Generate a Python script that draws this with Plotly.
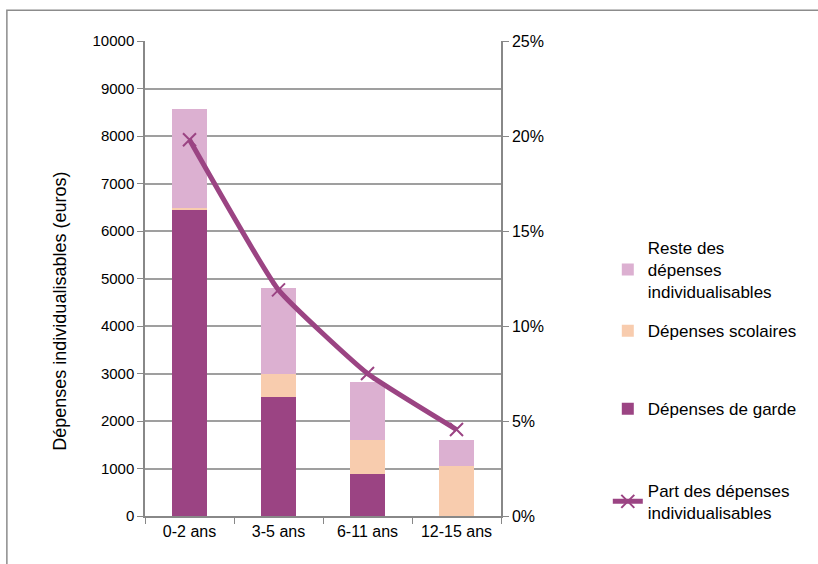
import plotly.graph_objects as go

categories = ["0-2 ans", "3-5 ans", "6-11 ans", "12-15 ans"]
garde = [6450, 2500, 880, 0]
scolaires = [30, 500, 730, 1060]
reste = [2080, 1800, 1220, 540]
part = [0.198, 0.119, 0.075, 0.0455]
y_title = "Dépenses individualisables (euros)"

c_garde = "#9B4483"
c_scol = "#F8CCAE"
c_reste = "#DCB0D1"

FONT = "Liberation Sans, Arial"

fig = go.Figure()
fig.add_bar(x=categories, y=garde, name="Dépenses de garde", marker=dict(color=c_garde, line=dict(width=0)), legend="legend3")
fig.add_bar(x=categories, y=scolaires, name="Dépenses scolaires", marker=dict(color=c_scol, line=dict(width=0)), legend="legend2")
fig.add_bar(x=categories, y=reste, name="Reste des<br>dépenses<br>individualisables", marker=dict(color=c_reste, line=dict(width=0)), legend="legend")
fig.add_scatter(x=categories, y=part, yaxis="y2", name="Part des dépenses<br>individualisables",
                mode="lines+markers", line=dict(color=c_garde, width=5, shape="spline", smoothing=0.4),
                marker=dict(symbol="x-thin", size=13, line=dict(color=c_garde, width=2)), legend="legend4")

axis_gray = "#888888"
grid_gray = "#9F9F9F"

def leg(y):
    return dict(x=1.30, y=y, xanchor="left", yanchor="middle", xref="paper", yref="paper",
                font=dict(family=FONT, size=17, color="#000"), bgcolor="rgba(0,0,0,0)", itemwidth=30)

fig.update_layout(
    width=818, height=564,
    margin=dict(l=145, r=317, t=41, b=48),
    barmode="stack", bargap=0.6,
    plot_bgcolor="white", paper_bgcolor="white",
    font=dict(family=FONT, size=16, color="#000"),
    showlegend=True,
    legend=leg(0.518), legend2=leg(0.389), legend3=leg(0.225), legend4=leg(0.03),
    xaxis=dict(type="category", range=[-0.5, 3.5], tickson="boundaries", ticks="outside", ticklen=6,
               tickcolor=axis_gray, showline=True, linecolor=axis_gray, linewidth=1.5,
               showgrid=False, tickfont=dict(family=FONT, size=16)),
    yaxis=dict(range=[0, 10000], dtick=1000, tickformat="d", ticks="outside", ticklen=6, tickcolor=axis_gray,
               showline=True, linecolor=axis_gray, linewidth=1.5, showgrid=True, gridcolor=grid_gray,
               gridwidth=1.5, zeroline=False, tickfont=dict(family=FONT, size=15)),
    yaxis2=dict(overlaying="y", side="right", range=[0, 0.25], dtick=0.05, tickformat=".0%",
                ticks="outside", ticklen=6, tickcolor=axis_gray, showline=True, linecolor=axis_gray,
                linewidth=1.5, showgrid=False, zeroline=False, tickfont=dict(family=FONT, size=16)),
    annotations=[dict(text=y_title, textangle=-90, xref="paper", yref="paper", x=-0.239, y=0.432,
                      xanchor="center", yanchor="middle", showarrow=False,
                      font=dict(family=FONT, size=18, color="#000"))],
    shapes=[dict(type="rect", xref="paper", yref="paper", x0=-0.388, x1=2.0, y0=-0.3, y1=1.065,
                 line=dict(color="#8C8C8C", width=1.5), fillcolor="rgba(0,0,0,0)", layer="below")],
)

fig.write_html("out.html")
